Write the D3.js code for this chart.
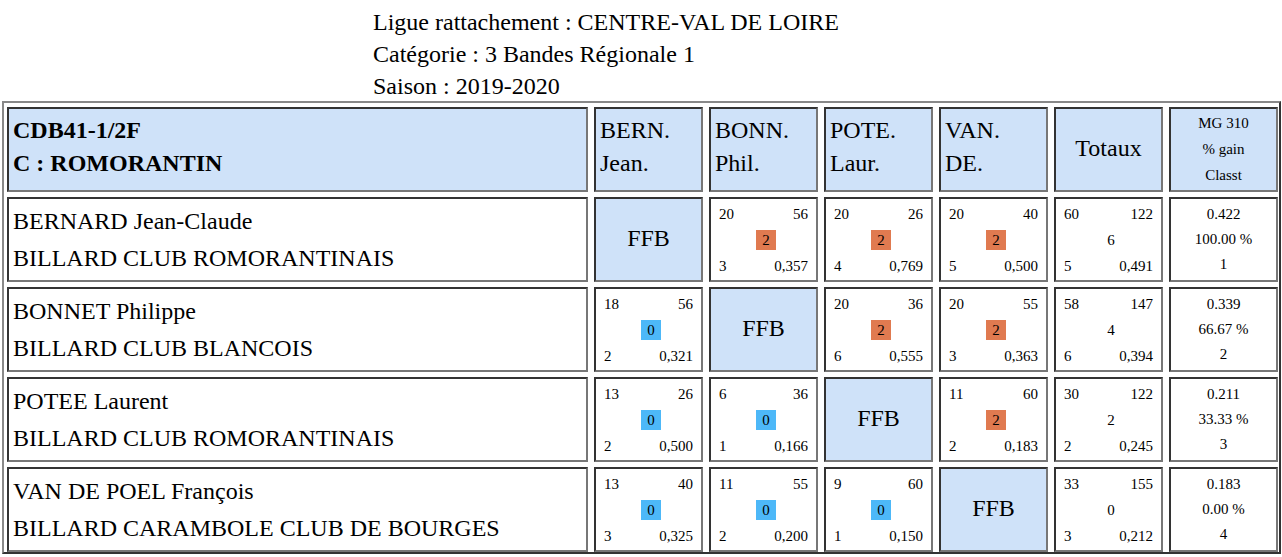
<!DOCTYPE html>
<html>
<head>
<meta charset="utf-8">
<script src="https://cdn.jsdelivr.net/npm/d3@7"></script>
<style>
* { font-family: "Times New Roman", "Liberation Serif", Times, serif; }
body { margin: 0; background: #fff; }
#page { position: relative; width: 1282px; height: 557px; overflow: hidden; }
.titre { position: absolute; left: 373px; font-size: 24px; line-height: 32px; }
.cell { position: absolute; box-sizing: border-box; border: 2px solid; border-color: #333 #777 #777 #333; background: #fff; }
.bleu { background: #cfe2f9; }
.sm { position: absolute; font-size: 15px; line-height: 17px; }
.badge { position: absolute; font-size: 15px; line-height: 20px; width: 20px; text-align: center; }
</style>
</head>
<body>
<div id="page"></div>
<script>
const titres = ["Ligue rattachement : CENTRE-VAL DE LOIRE", "Catégorie : 3 Bandes Régionale 1", "Saison : 2019-2020"];
const enteteGauche = ["CDB41-1/2F", "C : ROMORANTIN"];
const entetes = [["BERN.", "Jean."], ["BONN.", "Phil."], ["POTE.", "Laur."], ["VAN.", "DE."]];
const joueurs = ["BERNARD Jean-Claude", "BONNET Philippe", "POTEE Laurent", "VAN DE POEL François"];
const clubs = ["BILLARD CLUB ROMORANTINAIS", "BILLARD CLUB BLANCOIS", "BILLARD CLUB ROMORANTINAIS", "BILLARD CARAMBOLE CLUB DE BOURGES"];
// [haut gauche, haut droite, milieu, bas gauche, bas droite]
const matchs = [
  [null, ["20","56","2","3","0,357"], ["20","26","2","4","0,769"], ["20","40","2","5","0,500"]],
  [["18","56","0","2","0,321"], null, ["20","36","2","6","0,555"], ["20","55","2","3","0,363"]],
  [["13","26","0","2","0,500"], ["6","36","0","1","0,166"], null, ["11","60","2","2","0,183"]],
  [["13","40","0","3","0,325"], ["11","55","0","2","0,200"], ["9","60","0","1","0,150"], null]
];
const totaux = [["60","122","6","5","0,491"], ["58","147","4","6","0,394"], ["30","122","2","2","0,245"], ["33","155","0","3","0,212"]];
const mg = [["0.422","100.00 %","1"], ["0.339","66.67 %","2"], ["0.211","33.33 %","3"], ["0.183","0.00 %","4"]];

const page = d3.select("#page");

page.selectAll(".titre").data(titres).join("div")
  .attr("class", "titre")
  .style("top", (d, i) => (6 + i * 32) + "px")
  .text(d => d);

// cadre du tableau
page.append("div").style("position", "absolute")
  .style("left", "2px").style("top", "101px").style("width", "1279px").style("height", "453px")
  .style("box-sizing", "border-box").style("border", "2px solid").style("border-color", "#888 #333 #333 #888");

// colonnes : première large, les autres égales
const x0 = 7, largeur1 = 581, pas = 115, largeur = 109;
const colX = i => i === 0 ? x0 : 594 + (i - 1) * pas;
const colW = i => i === 0 ? largeur1 : largeur;
const y = d3.scaleLinear().domain([0, 5]).range([107, 557]);
const hauteur = 85;

function cellule(col, row, bleu) {
  return page.append("div").attr("class", "cell" + (bleu ? " bleu" : ""))
    .style("left", colX(col) + "px").style("top", y(row) + "px")
    .style("width", colW(col) + "px").style("height", hauteur + "px");
}

// en-tête
const cg = cellule(0, 0, true);
cg.selectAll("div").data(enteteGauche).join("div")
  .style("position", "absolute").style("left", "4px").style("top", (d, i) => (8 + i * 33) + "px")
  .style("font-size", "24px").style("font-weight", "bold").text(d => d);
entetes.forEach((e, j) => {
  cellule(j + 1, 0, true).selectAll("div").data(e).join("div")
    .style("position", "absolute").style("left", "4px").style("top", (d, i) => (8 + i * 33) + "px")
    .style("font-size", "24px").text(d => d);
});
cellule(5, 0, true).append("div").style("position", "absolute").style("width", "100%")
  .style("text-align", "center").style("top", "26px").style("font-size", "24px").text("Totaux");
cellule(6, 0, true).selectAll("div").data(["MG 310", "% gain", "Classt"]).join("div")
  .style("position", "absolute").style("width", "100%").style("text-align", "center")
  .style("top", (d, i) => (6 + i * 26) + "px").style("font-size", "15px").text(d => d);

function resultat(c, v, couleur) {
  c.append("div").attr("class", "sm").style("left", "8px").style("top", "7px").text(v[0]);
  c.append("div").attr("class", "sm").style("right", "8px").style("top", "7px").text(v[1]);
  c.append("div").attr("class", "badge").style("left", "45px").style("top", "31px")
    .style("background", couleur || "none").text(v[2]);
  c.append("div").attr("class", "sm").style("left", "8px").style("top", "59px").text(v[3]);
  c.append("div").attr("class", "sm").style("right", "8px").style("top", "59px").text(v[4]);
}

joueurs.forEach((nom, i) => {
  const r = i + 1;
  cellule(0, r, false).selectAll("div").data([nom, clubs[i]]).join("div")
    .style("position", "absolute").style("left", "4px").style("top", (d, k) => (9 + k * 37) + "px")
    .style("font-size", "24px").text(d => d);
  matchs[i].forEach((m, j) => {
    if (m === null) {
      cellule(j + 1, r, true).append("div").style("position", "absolute").style("width", "100%")
        .style("text-align", "center").style("top", "26px").style("font-size", "24px").text("FFB");
    } else {
      resultat(cellule(j + 1, r, false), m, m[2] === "2" ? "#e07a50" : "#4db8f8");
    }
  });
  resultat(cellule(5, r, false), totaux[i], null);
  cellule(6, r, false).selectAll("div").data(mg[i]).join("div")
    .style("position", "absolute").style("width", "100%").style("text-align", "center")
    .style("top", (d, k) => (7 + k * 25) + "px").style("font-size", "15px").text(d => d);
});
</script>
</body>
</html>
